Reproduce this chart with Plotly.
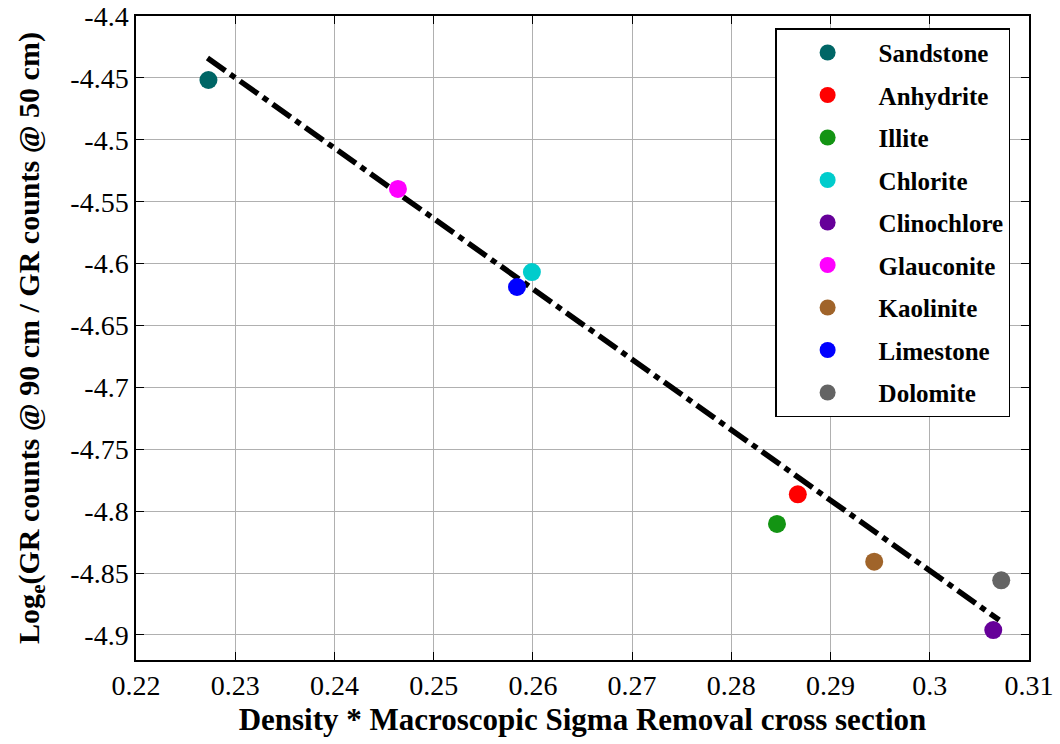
import plotly.graph_objects as go

minerals = ["Sandstone", "Anhydrite", "Illite", "Chlorite", "Clinochlore",
            "Glauconite", "Kaolinite", "Limestone", "Dolomite"]
x_vals = [0.2273, 0.2867, 0.2846, 0.2599, 0.3064, 0.2464, 0.2944, 0.2584, 0.3072]
y_vals = [-4.4517, -4.7864, -4.8103, -4.6068, -4.8960, -4.5397, -4.8408, -4.6189, -4.8558]
colors = ["#006666", "#ff0000", "#139413", "#00cccc", "#660099",
          "#ff00ff", "#a0642a", "#0000ff", "#646464"]

fit_x = [0.2272, 0.3070]
fit_y = [-4.4339, -4.8879]

x_ticks = [0.22, 0.23, 0.24, 0.25, 0.26, 0.27, 0.28, 0.29, 0.30, 0.31]
x_tick_text = ["0.22", "0.23", "0.24", "0.25", "0.26", "0.27", "0.28", "0.29", "0.3", "0.31"]
y_ticks = [-4.9, -4.85, -4.8, -4.75, -4.7, -4.65, -4.6, -4.55, -4.5, -4.45, -4.4]
y_tick_text = ["-4.9", "-4.85", "-4.8", "-4.75", "-4.7", "-4.65", "-4.6", "-4.55", "-4.5", "-4.45", "-4.4"]

fig = go.Figure()

fig.add_trace(go.Scatter(
    x=fit_x, y=fit_y, mode="lines",
    line=dict(color="black", width=5.5, dash="22px,6px,6px,6px"),
    showlegend=False, hoverinfo="skip"))

for i, name in enumerate(minerals):
    fig.add_trace(go.Scatter(
        x=[x_vals[i]], y=[y_vals[i]], mode="markers", name=name,
        legendgroup=name,
        marker=dict(color=colors[i], size=18, line=dict(width=0))))

serif = "Liberation Serif, Times New Roman, serif"

fig.update_layout(
    width=1060, height=744,
    margin=dict(l=136, r=31, t=16, b=84),
    paper_bgcolor="white", plot_bgcolor="white",
    font=dict(family=serif, color="black", size=28),
    showlegend=True,
    legend=dict(
        x=0.7157, y=0.981, xanchor="left", yanchor="top",
        bordercolor="black", borderwidth=1.5, bgcolor="white",
        font=dict(family=serif, size=25, color="black", weight="bold"),
        itemwidth=92, tracegroupgap=7),
    xaxis=dict(
        range=[0.22, 0.31], tickvals=x_ticks, ticktext=x_tick_text,
        automargin=False,
        showgrid=True, gridcolor="#b0b0b0", gridwidth=1,
        ticks="inside", ticklen=8, tickcolor="black",
        showline=True, linecolor="black", linewidth=1.5, mirror="ticks",
        zeroline=False,
        tickfont=dict(family=serif, size=28),
        title=dict(text="Density * Macroscopic Sigma Removal cross section",
                   font=dict(family=serif, size=31, weight="bold"), standoff=8)),
    yaxis=dict(
        range=[-4.9202, -4.4], tickvals=y_ticks, ticktext=y_tick_text,
        automargin=False,
        showgrid=True, gridcolor="#b0b0b0", gridwidth=1,
        ticks="inside", ticklen=8, tickcolor="black",
        showline=True, linecolor="black", linewidth=1.5, mirror="ticks",
        zeroline=False,
        tickfont=dict(family=serif, size=28),
        title=dict(text="Log<sub>e</sub>(GR counts @ 90 cm / GR counts @ 50 cm)",
                   font=dict(family=serif, size=30, weight="bold"), standoff=22)),
)

fig.write_html("out.html")
